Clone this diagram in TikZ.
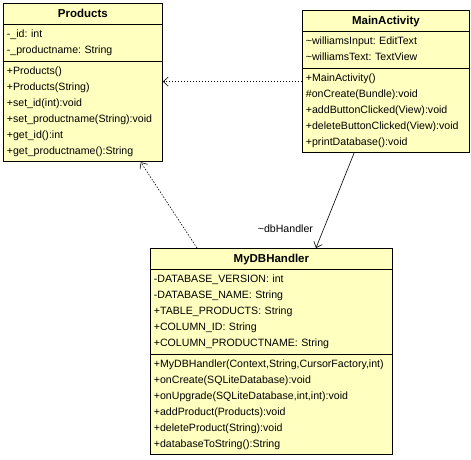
\documentclass[tikz,border=0pt]{standalone}
\usepackage{fontspec}
\setmainfont{Liberation Sans}
\usetikzlibrary{positioning,shapes.multipart,arrows.meta,calc}
\definecolor{classfill}{HTML}{FFFFC0}
\newcommand{\classtitle}[1]{\strut\makebox[\linewidth]{\fontsize{11.5}{16}\selectfont\bfseries #1}}
\frenchspacing

\begin{document}
\begin{tikzpicture}[x=1pt,y=-1pt,
  umlclass/.style={draw, fill=classfill, line width=0.8pt, rectangle split, rectangle split parts=3,
    anchor=north west, align=left, inner xsep=3.5pt, inner ysep=2pt, font=\fontsize{10.6}{16}\selectfont},
  dep/.style={line width=0.6pt, dash pattern=on 1.5pt off 1.5pt, -{Straight Barb[length=5pt,width=9pt]}},
  assoc/.style={line width=0.6pt, -{Straight Barb[length=5pt,width=9pt]}}]
\useasboundingbox (0,0) rectangle (471,459);

% classes
\node[umlclass, text width=152pt] (products) at (3,3) {\classtitle{Products}
  \nodepart{second}\strut -\_id: int\\ -\_productname: String\strut
  \nodepart{third}\strut +Products()\\ +Products(String)\\ +set\_id(int):void\\
    +set\_productname(String):void\\ +get\_id():int\\ +get\_productname():String\strut};

\node[umlclass, text width=160pt] (main) at (302,10) {\classtitle{MainActivity}
  \nodepart{second}\strut \textasciitilde williamsInput: EditText\\ \textasciitilde williamsText: TextView\strut
  \nodepart{third}\strut +MainActivity()\\ \#onCreate(Bundle):void\\ +addButtonClicked(View):void\\
    +deleteButtonClicked(View):void\\ +printDatabase():void\strut};

\node[umlclass, text width=235pt] (db) at (150,248) {\classtitle{MyDBHandler}
  \nodepart{second}\strut -DATABASE\_VERSION: int\\ -DATABASE\_NAME: String\\ +TABLE\_PRODUCTS: String\\
    +COLUMN\_ID: String\\ +COLUMN\_PRODUCTNAME: String\strut
  \nodepart{third}\strut +MyDBHandler(Context,String,CursorFactory,int)\\ +onCreate(SQLiteDatabase):void\\
    +onUpgrade(SQLiteDatabase,int,int):void\\ +addProduct(Products):void\\
    +deleteProduct(String):void\\ +databaseToString():String\strut};

% relations
\draw[dep] (main.west) -- (main.west -| products.east);
\draw[dep] ($(db.north west)+(47,0)$) -- ($(products.south east)+(-22,0)$);
\draw[assoc] ($(main.south west)+(52,0)$) -- node[pos=0.8, anchor=east, xshift=-7pt, font=\fontsize{10.6}{13}\selectfont] (dblabel) {\textasciitilde dbHandler} ($(db.north west)+(166,0)$);
\end{tikzpicture}
\end{document}
